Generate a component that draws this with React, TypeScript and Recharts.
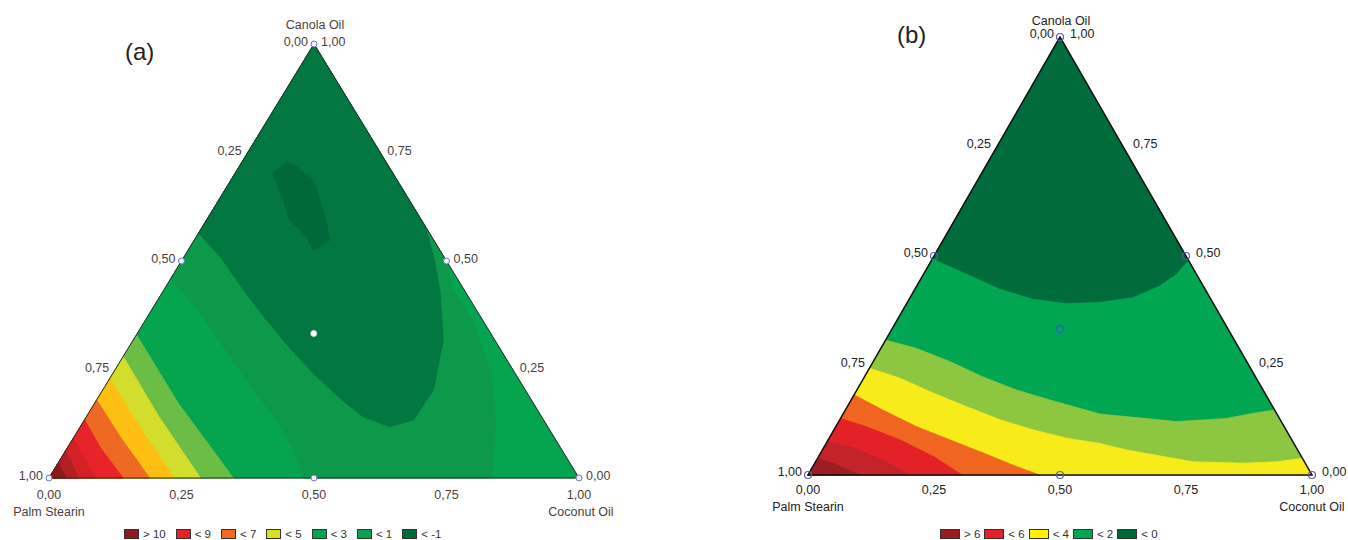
import React from "react";
import { ScatterChart, Scatter, XAxis, YAxis } from "recharts";

// composition points are [coconut, canola]; palm stearin = 1 - coconut - canola
type Pt = [number, number];

const PALM: Pt = [0, 0];
const COCONUT: Pt = [1, 0];
const CANOLA: Pt = [0, 1];

const tickValues = [0, 0.25, 0.5, 0.75, 1];
const designPoints: Pt[] = [PALM, COCONUT, CANOLA, [0.5, 0], [0, 0.5], [0.5, 0.5]];
const centrePoint: Pt[] = [[0.333, 0.333]];

// ---- panel (a) contour lines ----
const aLightGreen: Pt[] = [[0, 0.33], [0.158, 0.172], [0.348, 0]];
const aYellowGreen: Pt[] = [[0, 0.28], [0.135, 0.143], [0.286, 0]];
const aGold: Pt[] = [[0, 0.23], [0.112, 0.118], [0.236, 0]];
const aOrange: Pt[] = [[0, 0.18], [0.088, 0.094], [0.19, 0]];
const aRed: Pt[] = [[0, 0.134], [0.064, 0.068], [0.14, 0]];
const aRed2: Pt[] = [[0, 0.092], [0.043, 0.046], [0.088, 0]];
const aRed3: Pt[] = [[0, 0.062], [0.028, 0.032], [0.056, 0]];
const aDarkRed: Pt[] = [[0, 0.035], [0.016, 0.018], [0.033, 0]];
const aBandLeft: Pt[] = [[0, 0.459], [0.09, 0.385], [0.17, 0.31], [0.26, 0.225], [0.35, 0.145], [0.43, 0.065], [0.48, 0]];
const aBandRight: Pt[] = [[0.835, 0], [0.78, 0.125], [0.715, 0.24], [0.625, 0.355], [0.54, 0.44], [0.5, 0.5]];
const aValley: Pt[] = [
  [0, 0.564], [0.068, 0.51], [0.143, 0.44], [0.219, 0.372], [0.298, 0.305], [0.378, 0.241],
  [0.457, 0.184], [0.522, 0.141], [0.584, 0.118], [0.621, 0.134], [0.624, 0.203], [0.585, 0.318],
  [0.521, 0.433], [0.473, 0.507], [0.42, 0.58],
];
const aMinimum: Pt[] = [
  [0.072, 0.702], [0.084, 0.729], [0.109, 0.717], [0.155, 0.687], [0.191, 0.641], [0.23, 0.587],
  [0.256, 0.548], [0.245, 0.533], [0.236, 0.525], [0.208, 0.556], [0.178, 0.579], [0.157, 0.594],
  [0.122, 0.641], [0.083, 0.687],
];

// ---- panel (b) contour lines ----
const bDark: Pt[] = [[0, 0.495], [0.085, 0.46], [0.168, 0.426], [0.245, 0.403], [0.317, 0.393], [0.382, 0.396], [0.442, 0.407], [0.482, 0.434], [0.501, 0.46], [0.509, 0.491]];
const bLightGreen: Pt[] = [[0, 0.308], [0.071, 0.289], [0.152, 0.259], [0.235, 0.224], [0.317, 0.194], [0.395, 0.171], [0.51, 0.139], [0.671, 0.122], [0.766, 0.129], [0.813, 0.141], [0.852, 0.148]];
const bYellow: Pt[] = [[0, 0.244], [0.072, 0.221], [0.155, 0.187], [0.237, 0.156], [0.318, 0.126], [0.396, 0.103], [0.471, 0.084], [0.543, 0.072], [0.604, 0.057], [0.749, 0.03], [0.85, 0.027], [0.915, 0.03], [0.962, 0.038]];
const bOrange: Pt[] = [[0, 0.183], [0.075, 0.148], [0.161, 0.11], [0.242, 0.08], [0.323, 0.05], [0.405, 0.019], [0.46, 0]];
const bRed: Pt[] = [[0, 0.129], [0.061, 0.11], [0.143, 0.08], [0.228, 0.042], [0.306, 0]];
const bRed2: Pt[] = [[0, 0.076], [0.051, 0.065], [0.132, 0.034], [0.202, 0]];
const bDarkRed: Pt[] = [[0, 0.038], [0.036, 0.027], [0.103, 0]];

// legends
const legendA = ["> 10", "< 9", "< 7", "< 5", "< 3", "< 1", "< -1"];
const legendAColors = ["#8e1b1f", "#e42127", "#f26a22", "#d9e021", "#00a651", "#11a04f", "#006838"];
const legendB = ["> 6", "< 6", "< 4", "< 2", "< 0"];
const legendBColors = ["#9b1c20", "#e42127", "#fff200", "#00a651", "#006838"];

const FONT = "'Liberation Sans', Arial, sans-serif";

type Region = { fill: string; pts: Pt[] };

const regionsA: Region[] = [
  { fill: "#05a54f", pts: [PALM, COCONUT, CANOLA] },
  { fill: "#0d994a", pts: [CANOLA, ...aBandLeft, ...aBandRight] },
  { fill: "#02773f", pts: [CANOLA, ...aValley] },
  { fill: "#006939", pts: aMinimum },
  { fill: "#6cbd45", pts: [PALM, ...aLightGreen] },
  { fill: "#d3dd2b", pts: [PALM, ...aYellowGreen] },
  { fill: "#fdc012", pts: [PALM, ...aGold] },
  { fill: "#ee6a24", pts: [PALM, ...aOrange] },
  { fill: "#e8232a", pts: [PALM, ...aRed] },
  { fill: "#d42128", pts: [PALM, ...aRed2] },
  { fill: "#b41f25", pts: [PALM, ...aRed3] },
  { fill: "#8b1a1d", pts: [PALM, ...aDarkRed] },
];

const regionsB: Region[] = [
  { fill: "#00a651", pts: [PALM, COCONUT, CANOLA] },
  { fill: "#006b3b", pts: [CANOLA, ...bDark] },
  { fill: "#8dc63f", pts: [PALM, ...bLightGreen, COCONUT] },
  { fill: "#f7ec1a", pts: [PALM, ...bYellow, COCONUT] },
  { fill: "#f0651f", pts: [PALM, ...bOrange] },
  { fill: "#e42127", pts: [PALM, ...bRed] },
  { fill: "#c4232a", pts: [PALM, ...bRed2] },
  { fill: "#9d1e22", pts: [PALM, ...bDarkRed] },
];

const toXY = ([coco, can]: Pt) => ({ x: coco + can / 2, y: can });
const fmt = (v: number) => v.toFixed(2).replace(".", ",");

const Hidden = () => <g />;

type Offsets = { left: number; right: number; side: number; bottom: number; top: number; name: number; coconutDx: number };

const buildLabels = (o: Offsets) => [
  ...tickValues.map((p) => ({ ...toXY([0, 1 - p]), text: fmt(p), anchor: "end", dx: o.left, dy: o.side })),
  ...tickValues.map((c) => ({ ...toXY([1 - c, c]), text: fmt(c), anchor: "start", dx: o.right, dy: o.side })),
  ...tickValues.map((c) => ({ ...toXY([c, 0]), text: fmt(c), anchor: "middle", dx: 0, dy: o.bottom })),
  { ...toXY(CANOLA), text: "Canola Oil", anchor: "middle", dx: 1, dy: o.top },
  { ...toXY(PALM), text: "Palm Stearin", anchor: "middle", dx: 0, dy: o.name },
  { ...toXY(COCONUT), text: "Coconut Oil", anchor: "middle", dx: o.coconutDx, dy: o.name },
];

interface PanelProps {
  left: number;
  margin: { top: number; right: number; bottom: number; left: number };
  regions: Region[];
  offsets: Offsets;
  textColor: string;
  edgeColor: string;
  edgeWidth: number;
  ring: { r: number; stroke: string; fill: string; width: number };
  centre: { r: number; stroke: string; fill: string; width: number };
}

function TernaryPanel({ left, margin, regions, offsets, textColor, edgeColor, edgeWidth, ring, centre }: PanelProps) {
  const labels = buildLabels(offsets);
  const LabelShape = (props: any) => {
    const { cx, cy, payload } = props;
    return (
      <text
        x={cx + payload.dx}
        y={cy + payload.dy}
        textAnchor={payload.anchor}
        dominantBaseline="central"
        fontFamily={FONT}
        fontSize={12.5}
        fill={textColor}
      >
        {payload.text}
      </text>
    );
  };
  const ringShape = (s: PanelProps["ring"]) => (props: any) =>
    <circle cx={props.cx} cy={props.cy} r={s.r} fill={s.fill} stroke={s.stroke} strokeWidth={s.width} />;

  return (
    <div style={{ position: "absolute", left, top: 0 }}>
      <ScatterChart width={674} height={540} margin={margin}>
        <XAxis type="number" dataKey="x" domain={[0, 1]} hide />
        <YAxis type="number" dataKey="y" domain={[0, 1]} hide />
        {regions.map((r, i) => (
          <Scatter
            key={`region-${i}`}
            data={r.pts.map(toXY)}
            shape={Hidden}
            line={{ fill: r.fill, stroke: r.fill, strokeWidth: 0.8 }}
            lineJointType="linearClosed"
            isAnimationActive={false}
          />
        ))}
        <Scatter
          data={[PALM, COCONUT, CANOLA].map(toXY)}
          shape={Hidden}
          line={{ fill: "none", stroke: edgeColor, strokeWidth: edgeWidth }}
          lineJointType="linearClosed"
          isAnimationActive={false}
        />
        <Scatter data={designPoints.map(toXY)} shape={ringShape(ring)} isAnimationActive={false} />
        <Scatter data={centrePoint.map(toXY)} shape={ringShape(centre)} isAnimationActive={false} />
        <Scatter data={labels} shape={LabelShape} isAnimationActive={false} />
      </ScatterChart>
    </div>
  );
}

function LegendRow({ left, items, colors, boxW, gap }: { left: number; items: string[]; colors: string[]; boxW: number; gap: number }) {
  return (
    <div style={{ position: "absolute", left, top: 528, display: "flex", alignItems: "center", fontFamily: FONT, fontSize: 11.5, color: "#333", lineHeight: "12px" }}>
      {items.map((t, i) => (
        <div key={t} style={{ display: "flex", alignItems: "center", marginRight: gap }}>
          <span style={{ display: "inline-block", width: boxW, height: 10, background: colors[i], border: "1px solid #333", boxSizing: "border-box", marginRight: 4 }} />
          <span>{t}</span>
        </div>
      ))}
    </div>
  );
}

export default function App() {
  return (
    <div style={{ position: "absolute", left: 0, top: 0, width: 1348, height: 540, background: "#fff", overflow: "hidden" }}>
      <TernaryPanel
        left={0}
        margin={{ top: 44, right: 95, bottom: 62, left: 49 }}
        regions={regionsA}
        offsets={{ left: -6, right: 7, side: -2, bottom: 17, top: -19, name: 34, coconutDx: 2 }}
        textColor="#4a3f40"
        edgeColor="#2d2d2d"
        edgeWidth={1}
        ring={{ r: 3, stroke: "#7478bb", fill: "#eef", width: 1 }}
        centre={{ r: 3, stroke: "#dde", fill: "#fff", width: 0.8 }}
      />
      <TernaryPanel
        left={674}
        margin={{ top: 37, right: 36, bottom: 65, left: 134 }}
        regions={regionsB}
        offsets={{ left: -6, right: 10, side: -3, bottom: 15, top: -16, name: 32, coconutDx: 0 }}
        textColor="#222"
        edgeColor="#111"
        edgeWidth={1.5}
        ring={{ r: 3.5, stroke: "#5a5fae", fill: "none", width: 1.2 }}
        centre={{ r: 3.5, stroke: "#1d6fa3", fill: "none", width: 1.2 }}
      />
      <div style={{ position: "absolute", left: 125, top: 40, fontFamily: FONT, fontSize: 24, lineHeight: "24px", color: "#222" }}>(a)</div>
      <div style={{ position: "absolute", left: 897, top: 23, fontFamily: FONT, fontSize: 24, lineHeight: "24px", color: "#222" }}>(b)</div>
      <LegendRow left={124} items={legendA} colors={legendAColors} boxW={15} gap={10} />
      <LegendRow left={940} items={legendB} colors={legendBColors} boxW={20} gap={4} />
    </div>
  );
}
